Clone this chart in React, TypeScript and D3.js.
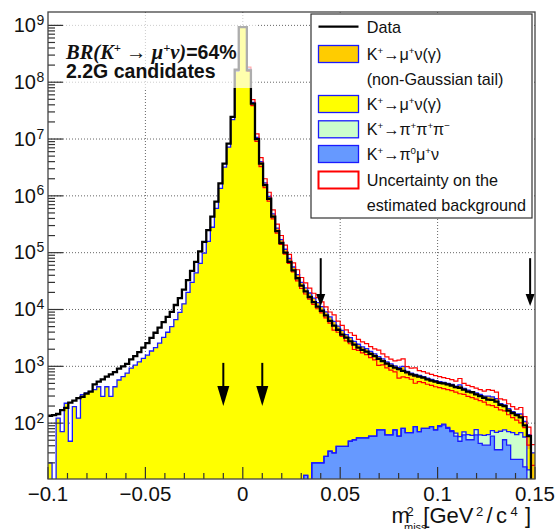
import * as d3 from "d3";
import { Fragment } from "react";

// binning of the m2miss histogram
const X_MIN = -0.1;
const X_MAX = 0.15;
const N_BINS = 120;

// data, 120 bins
const dataCounts = [
  135, 138, 145, 170, 186, 230, 250, 275, 290, 330,
  360, 480, 540, 590, 660, 720, 790, 910, 1000, 1100,
  1320, 1510, 1780, 2140, 2570, 3160, 3900, 4800, 6000, 7400,
  9100, 1.2e4, 1.58e4, 2.24e4, 3.3e4, 4.8e4, 6.9e4, 1.05e5, 1.55e5, 2.5e5,
  4.3e5, 7.9e5, 1.66e6, 3.7e6, 8.3e6, 2.45e7, 1.66e8, 9.3e8, 9.3e8, 1.62e8,
  4.2e7, 1.0e7, 3.7e6, 1.55e6, 8.9e5, 4.3e5, 2.4e5, 1.48e5, 1.0e5, 6.9e4,
  4.9e4, 3.55e4, 2.63e4, 2.09e4, 1.66e4, 1.35e4, 1.12e4, 9500, 7900, 6300,
  5200, 4400, 3600, 3200, 2750, 2400, 2140, 1950, 1820, 1660,
  1510, 1350, 1230, 1120, 1020, 950, 890, 830, 780, 720,
  690, 660, 630, 590, 560, 540, 510, 500, 480, 460,
  430, 420, 390, 360, 350, 320, 300, 280, 260, 257,
  240, 210, 200, 166, 151, 138, 126, 91, 59, 0,
];

// K+ -> mu+ nu (gamma), gaussian part
const kmu2 = [
  20, 0, 123, 71, 224, 48, 195, 123, 316, 339,
  363, 389, 437, 295, 437, 295, 437, 575, 661, 759,
  933, 1050, 1200, 1380, 1580, 1860, 2140, 2570, 3240, 3980,
  5010, 6610, 8910, 1.26e4, 2.0e4, 3.0e4, 4.4e4, 6.5e4, 9.8e4, 1.58e5,
  2.8e5, 6.0e5, 1.35e6, 3.2e6, 7.2e6, 2.2e7, 1.58e8, 9.3e8, 9.3e8, 1.67e8,
  4.18e7, 9.63e6, 3.28e6, 1.39e6, 8.04e5, 3.94e5, 2.21e5, 1.39e5, 9.43e4, 6.48e4,
  4.6e4, 3.36e4, 2.46e4, 1.97e4, 1.6e4, 1.3e4, 1.08e4, 9180, 7430, 6040,
  5050, 4140, 3490, 3060, 2700, 2310, 2050, 1840, 1710, 1510,
  1370, 1200, 1090, 970, 884, 801, 758, 779, 629, 586,
  532, 550, 513, 477, 444, 428, 396, 372, 366, 358,
  338, 365, 299, 279, 263, 229, 226, 209, 207, 187,
  174, 126, 113, 91, 76, 67, 62, 39, 20, 0,
];

// K+ -> mu+ nu (gamma), non-gaussian tail
const kmu2Tail = [
  0, 0, 0, 0, 0, 0, 0, 0, 0, 0,
  0, 0, 0, 0, 0, 0, 0, 0, 0, 0,
  0, 0, 0, 0, 0, 0, 0, 0, 0, 0,
  0, 0, 0, 0, 0, 0, 0, 0, 0, 0,
  0, 0, 0, 0, 0, 0, 0, 0, 0, 3.4e6,
  2.2e6, 1.07e6, 7.2e5, 3.06e5, 1.76e5, 8.6e4, 4.9e4, 3.1e4, 2.07e4, 1.42e4,
  1.0e4, 7400, 5400, 4300, 3500, 2800, 2400, 2000, 1640, 1330,
  1120, 920, 770, 500, 450, 385, 343, 308, 287, 255,
  232, 207, 189, 168, 154, 143, 133, 140, 113, 106,
  101, 69, 66, 62, 59, 56, 54, 52, 50, 48,
  45, 47, 41, 38, 36, 34, 32, 30, 30, 29,
  27, 22, 21, 18, 16, 15, 15, 11, 28, 30,
];

// K+ -> pi+ pi+ pi-
const k3pi = [
  0, 0, 0, 0, 0, 0, 0, 0, 0, 0,
  0, 0, 0, 0, 0, 0, 0, 0, 0, 0,
  0, 0, 0, 0, 0, 0, 0, 0, 0, 0,
  0, 0, 0, 0, 0, 0, 0, 0, 0, 0,
  0, 0, 0, 0, 0, 0, 0, 0, 0, 0,
  0, 0, 0, 0, 0, 0, 0, 0, 0, 0,
  0, 0, 0, 0, 0, 0, 0, 0, 0, 0,
  0, 0, 0, 0, 0, 0, 0, 0, 0, 0,
  0, 0, 0, 0, 0, 0, 0, 0, 0, 0,
  0, 0, 0, 0, 0, 0, 3, 3, 3, 3,
  8, 10, 8, 12, 10, 15, 18, 20, 22, 15,
  35, 38, 25, 30, 45, 40, 45, 40, 15, 0,
];

// K+ -> pi0 mu+ nu
const kmu3 = [
  0, 0, 0, 0, 0, 0, 0, 0, 0, 0,
  0, 0, 0, 0, 0, 0, 0, 0, 0, 0,
  0, 0, 0, 0, 0, 0, 0, 0, 0, 0,
  0, 0, 0, 0, 0, 0, 0, 0, 0, 0,
  0, 0, 0, 0, 0, 0, 0, 0, 0, 0,
  0, 0, 0, 0, 0, 0, 0, 0, 0, 0,
  0, 0, 0, 12, 0, 20, 20, 20, 26, 32,
  30, 39, 39, 39, 48, 51, 55, 55, 55, 59,
  59, 76, 76, 62, 62, 76, 59, 81, 68, 68,
  87, 71, 81, 81, 87, 76, 87, 93, 81, 71,
  59, 48, 62, 51, 51, 62, 44, 41, 41, 59,
  34, 34, 51, 41, 23, 23, 23, 17, 0, 0,
];

// relative uncertainty on the estimated background
const bkgUnc = [
  0, 0, 0, 0, 0, 0, 0, 0, 0, 0,
  0, 0, 0, 0, 0, 0, 0, 0, 0, 0,
  0, 0, 0, 0, 0, 0, 0, 0, 0, 0,
  0, 0, 0, 0, 0, 0, 0, 0, 0, 0,
  0, 0, 0, 0, 0, 0, 0, 0, 0, 0.08,
  0.12, 0.15, 0.18, 0.18, 0.18, 0.18, 0.18, 0.18, 0.18, 0.18,
  0.18, 0.22, 0.22, 0.22, 0.22, 0.22, 0.22, 0.22, 0.22, 0.22,
  0.3, 0.22, 0.22, 0.22, 0.22, 0.28, 0.22, 0.22, 0.22, 0.22,
  0.22, 0.3, 0.22, 0.22, 0.22, 0.22, 0.35, 0.35, 0.22, 0.22,
  0.3, 0.22, 0.22, 0.22, 0.22, 0.22, 0.22, 0.22, 0.22, 0.22,
  0.22, 0.3, 0.22, 0.22, 0.22, 0.22, 0.22, 0.22, 0.3, 0.3,
  0.3, 0.22, 0.22, 0.22, 0.22, 0.22, 0.3, 0.22, 0.35, 0.4,
];

// signal region arrows (x, from, to)
const arrowX = [-0.01, 0.01, 0.04, 0.1475];
const arrowFrom = [1150, 1150, 8.0e4, 8.0e4];
const arrowTo = [200, 200, 1.15e4, 1.15e4];

const xTickValues = [-0.1, -0.05, 0, 0.05, 0.1, 0.15];
const xTickLabels = ["\u22120.1", "\u22120.05", "0", "0.05", "0.1", "0.15"];
const yDecades = [2, 3, 4, 5, 6, 7, 8, 9];

const W = 556;
const H = 529;
const frame = { left: 48, right: 535, top: 12, bottom: 479 };
const Y_MIN = 10.4;
const Y_MAX = 1.72e9;

const SANS = "'Liberation Sans', Arial, Helvetica, sans-serif";
const SERIF = "'Liberation Serif', 'Times New Roman', serif";
const BLUE_LINE = "#1a1aff";

const edges = d3.range(N_BINS + 1).map(i => X_MIN + (i * (X_MAX - X_MIN)) / N_BINS);

const x = d3.scaleLinear().domain([X_MIN, X_MAX]).range([frame.left, frame.right]);
const y = d3.scaleLog().domain([Y_MIN, Y_MAX]).range([frame.bottom, frame.top]);
const yv = (v: number) => (v > Y_MIN ? y(v) : frame.bottom + 3);

type Pt = [number, number, boolean];
const steps = (vals: number[], on?: (i: number) => boolean): Pt[] =>
  vals.flatMap((v, i) => {
    const ok = on ? on(i) : true;
    return [[edges[i], v, ok], [edges[i + 1], v, ok]] as Pt[];
  });
const stepLine = d3
  .line<Pt>()
  .defined(d => d[2])
  .x(d => x(d[0]))
  .y(d => yv(d[1]));
const stepArea = d3.area<Pt>().x(d => x(d[0])).y0(frame.bottom + 3).y1(d => yv(d[1]));

// stacked cumulative levels
const cumKmu3 = kmu3;
const cumK3pi = kmu3.map((v, i) => v + k3pi[i]);
const cumMain = cumK3pi.map((v, i) => v + kmu2[i]);
const cumTotal = cumMain.map((v, i) => v + kmu2Tail[i]);
const bandHi = cumTotal.map((v, i) => v * (1 + bkgUnc[i]));
const bandLo = cumTotal.map((v, i) => v * (1 - bkgUnc[i]));

const layers = [
  { vals: cumTotal, fill: "#ffcc00", line: BLUE_LINE },
  { vals: cumMain, fill: "#ffff00", line: null },
  { vals: cumK3pi, fill: "#ccffcc", line: BLUE_LINE },
  { vals: cumKmu3, fill: "#6699ff", line: BLUE_LINE },
];

function Decay({ parts, size }: { parts: [string, string][]; size: number }) {
  const up = size * 0.38;
  return (
    <>
      {parts.map(([base, sup], i) => (
        <Fragment key={i}>
          <tspan dy={i > 0 && parts[i - 1][1] ? up : 0}>{base}</tspan>
          {sup && (
            <tspan dy={-up} fontSize={size * 0.6}>
              {sup}
            </tspan>
          )}
        </Fragment>
      ))}
    </>
  );
}

export default function App() {
  const minorY: number[] = [];
  for (let e = 1; e <= 9; e++)
    for (let m = 2; m <= 9; m++) {
      const v = m * 10 ** e;
      if (v > Y_MIN && v < Y_MAX) minorY.push(v);
    }
  const minorX = d3.range(-10, 16).map(i => i / 100);

  const legendRows = [26.7, 54, 79, 104, 129.3, 154, 180, 205];
  const lfs = 16.2;
  const hasUnc = (i: number) => bkgUnc[i] > 0;

  return (
    <svg
      width={W}
      height={H}
      style={{ position: "absolute", left: 0, top: 0, background: "#fff" }}
      fontFamily={SANS}
    >
      <defs>
        <clipPath id="plotClip">
          <rect x={frame.left} y={frame.top} width={frame.right - frame.left} height={frame.bottom - frame.top} />
        </clipPath>
      </defs>
      <rect width={W} height={H} fill="#fff" />

      {/* grid */}
      <g stroke="#333" strokeWidth={1} strokeDasharray="1 2" opacity={0.75}>
        {xTickValues.slice(1, -1).map(v => (
          <line key={v} x1={x(v)} x2={x(v)} y1={frame.top} y2={frame.bottom} />
        ))}
        {yDecades.map(e => (
          <line key={e} x1={frame.left} x2={frame.right} y1={y(10 ** e)} y2={y(10 ** e)} />
        ))}
      </g>

      <g clipPath="url(#plotClip)">
        {layers.map((l, i) => (
          <path key={"f" + i} d={stepArea(steps(l.vals)) || ""} fill={l.fill} />
        ))}
        {layers.map((l, i) =>
          l.line ? (
            <path key={"l" + i} d={stepLine(steps(l.vals)) || ""} fill="none" stroke={l.line} strokeWidth={1.3} />
          ) : null
        )}
        <path d={stepLine(steps(bandHi, hasUnc)) || ""} fill="none" stroke="#ff0000" strokeWidth={1.2} />
        <path d={stepLine(steps(bandLo, hasUnc)) || ""} fill="none" stroke="#ff0000" strokeWidth={1.2} />
        <path d={stepLine(steps(dataCounts)) || ""} fill="none" stroke="#000" strokeWidth={2.3} />
      </g>

      {/* semi-transparent text pave */}
      <rect x={62} y={14} width={194} height={74} fill="#fff" opacity={0.68} />
      <text x={66} y={58.5} fontSize={19.5} fill="#111">
        <tspan fontFamily={SERIF} fontStyle="italic" fontWeight="bold" fontSize={20.5}>
          BR(K
          <tspan dy={-7} fontSize={12.5}>+</tspan>
          <tspan dy={7}>{" → μ"}</tspan>
          <tspan dy={-7} fontSize={12.5}>+</tspan>
          <tspan dy={7}>ν)</tspan>
        </tspan>
        <tspan fontWeight="bold">=64%</tspan>
      </text>
      <text x={66} y={77.5} fontSize={19.5} fontWeight="bold" fill="#111">
        2.2G candidates
      </text>

      {/* arrows */}
      {arrowX.map((ax, i) => {
        const px = x(ax);
        const y0 = y(arrowFrom[i]);
        const y1 = y(arrowTo[i]);
        const low = i < 2;
        const hl = low ? 20 : 12;
        const hw = low ? 6 : 4.5;
        return (
          <g key={"a" + i}>
            <line x1={px} x2={px} y1={y0} y2={y1 - hl + 1} stroke="#000" strokeWidth={2} />
            <path d={`M${px - hw},${y1 - hl}L${px + hw},${y1 - hl}L${px},${y1}Z`} fill="#000" />
          </g>
        );
      })}

      {/* axis ticks */}
      <g stroke="#333" strokeWidth={1.2}>
        {yDecades.map(e => (
          <line key={"yt" + e} x1={frame.left} x2={frame.left + 15} y1={y(10 ** e)} y2={y(10 ** e)} />
        ))}
        {minorY.map(v => (
          <line key={"ym" + v} x1={frame.left} x2={frame.left + 7} y1={y(v)} y2={y(v)} />
        ))}
        {minorX.map(v => {
          const major = Math.abs(Math.round(v * 20) - v * 20) < 1e-6;
          return (
            <line key={"xm" + v} x1={x(v)} x2={x(v)} y1={frame.bottom} y2={frame.bottom - (major ? 12 : 6)} />
          );
        })}
      </g>

      <rect
        x={frame.left}
        y={frame.top}
        width={frame.right - frame.left}
        height={frame.bottom - frame.top}
        fill="none"
        stroke="#444"
        strokeWidth={1.3}
      />

      {/* legend */}
      <rect x={311} y={14} width={221} height={204} fill="#fff" stroke="#333" strokeWidth={1.2} />
      <line x1={318.5} x2={358.5} y1={legendRows[0]} y2={legendRows[0]} stroke="#000" strokeWidth={2.3} />
      {[
        { row: 1, fill: "#ffcc00", stroke: BLUE_LINE, sw: 1.3 },
        { row: 3, fill: "#ffff00", stroke: BLUE_LINE, sw: 1.3 },
        { row: 4, fill: "#ccffcc", stroke: BLUE_LINE, sw: 1.3 },
        { row: 5, fill: "#6699ff", stroke: BLUE_LINE, sw: 1.3 },
        { row: 6, fill: "#fff", stroke: "#ff0000", sw: 2 },
      ].map(b => (
        <rect
          key={"lb" + b.row}
          x={318.5}
          y={legendRows[b.row] - 8.5}
          width={40}
          height={17}
          fill={b.fill}
          stroke={b.stroke}
          strokeWidth={b.sw}
        />
      ))}
      <g fontSize={lfs} fill="#111">
        <text x={366.7} y={legendRows[0] + 5.8}>Data</text>
        <text x={366.7} y={legendRows[1] + 5.8}>
          <Decay size={lfs} parts={[["K", "+"], ["→μ", "+"], ["ν(γ)", ""]]} />
        </text>
        <text x={366.7} y={legendRows[2] + 5.8}>(non-Gaussian tail)</text>
        <text x={366.7} y={legendRows[3] + 5.8}>
          <Decay size={lfs} parts={[["K", "+"], ["→μ", "+"], ["ν(γ)", ""]]} />
        </text>
        <text x={366.7} y={legendRows[4] + 5.8}>
          <Decay size={lfs} parts={[["K", "+"], ["→π", "+"], ["π", "+"], ["π", "\u2212"]]} />
        </text>
        <text x={366.7} y={legendRows[5] + 5.8}>
          <Decay size={lfs} parts={[["K", "+"], ["→π", "0"], ["μ", "+"], ["ν", ""]]} />
        </text>
        <text x={366.7} y={legendRows[6] + 5.8}>Uncertainty on the</text>
        <text x={366.7} y={legendRows[7] + 5.8}>estimated background</text>
      </g>

      {/* y tick labels */}
      <g fill="#111">
        {yDecades.map(e => (
          <g key={"yl" + e}>
            <text x={36} y={y(10 ** e) + 6.7} fontSize={20} textAnchor="end">
              10
            </text>
            <text x={36.5} y={y(10 ** e) - 0.5} fontSize={14}>
              {e}
            </text>
          </g>
        ))}
      </g>

      {/* x tick labels */}
      <g fill="#111" fontSize={20.5} textAnchor="middle">
        {xTickValues.map((v, i) => (
          <text key={"xl" + i} x={x(v)} y={501}>
            {xTickLabels[i]}
          </text>
        ))}
      </g>

      {/* x title */}
      <g fill="#111">
        <text x={391.5} y={523.3} fontSize={22}>m</text>
        <text x={406.5} y={515.5} fontSize={13}>2</text>
        <text x={404} y={530.5} fontSize={11}>miss</text>
        <text x={423.3} y={523.3} fontSize={22}>[GeV</text>
        <text x={476} y={516} fontSize={13}>2</text>
        <text x={486.5} y={523.3} fontSize={22}>/</text>
        <text x={496} y={523.3} fontSize={22}>c</text>
        <text x={510.5} y={516} fontSize={13}>4</text>
        <text x={525} y={523.3} fontSize={22}>]</text>
      </g>
    </svg>
  );
}
